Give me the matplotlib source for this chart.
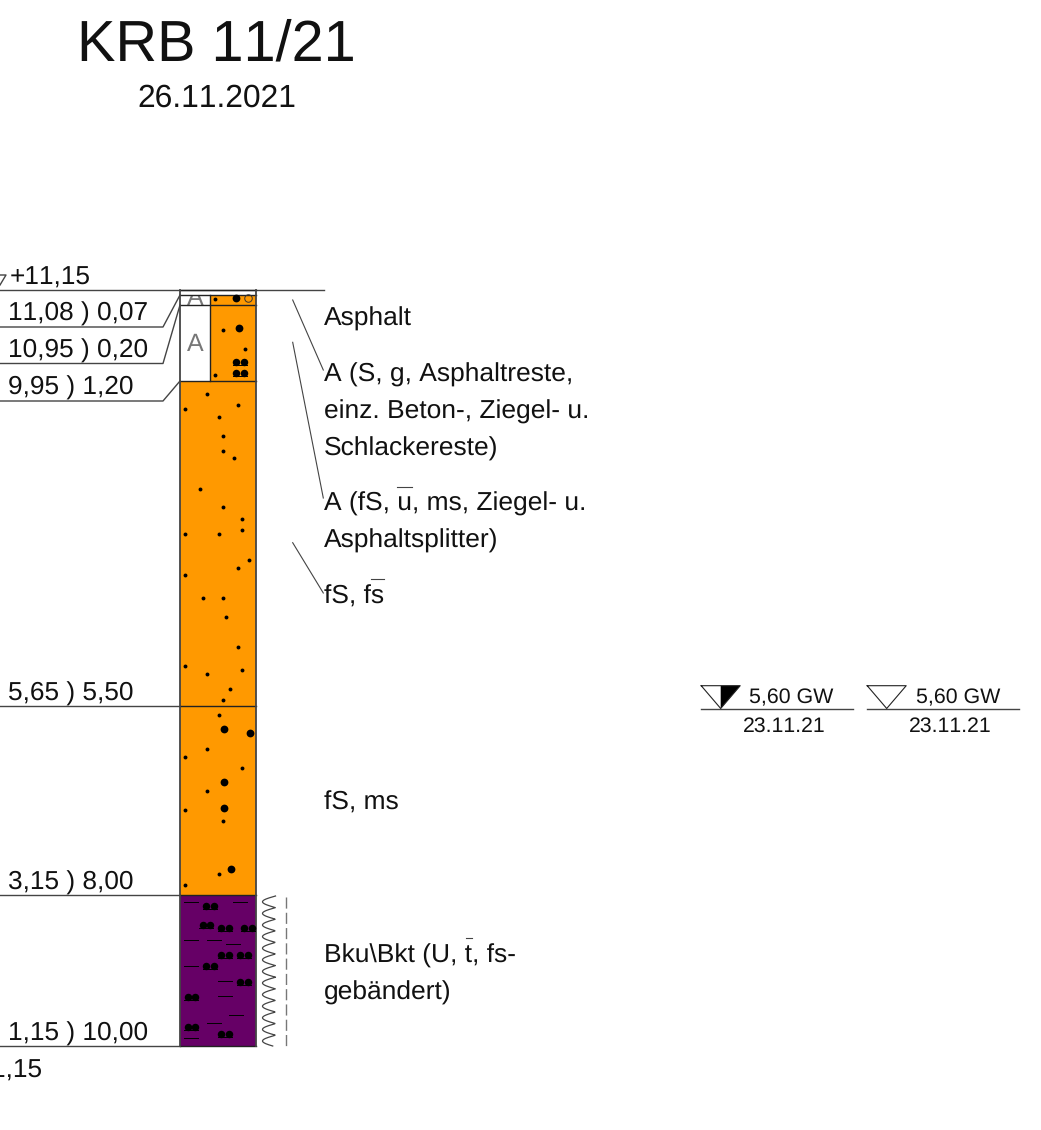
import matplotlib
matplotlib.use('Agg')
import matplotlib.pyplot as plt
from matplotlib.patches import Rectangle
import numpy as np

plt.rcParams['font.family'] = ['Liberation Sans', 'DejaVu Sans']
plt.rcParams['text.kerning_factor'] = 30
plt.rcParams['text.hinting'] = 'none'
plt.rcParams['text.hinting_factor'] = 8

# layers, depth in m below ground
layer_top = [0.0, 0.07, 0.20, 1.20, 5.50, 8.00]
layer_bottom = [0.07, 0.20, 1.20, 5.50, 8.00, 10.00]
layer_left_color = ['white', 'white', 'white', '#FF9900', '#FF9900', '#660066']
layer_right_color = ['white', '#FF9900', '#FF9900', '#FF9900', '#FF9900', '#660066']
depth_labels = ['11,08 ) 0,07', '10,95 ) 0,20', '9,95 ) 1,20', '5,65 ) 5,50', '3,15 ) 8,00', '1,15 ) 10,00']

# in pixels
small_x = [215, 222.7, 245, 215, 207.3, 184.7, 237.7, 218.7, 222.7, 222.7, 233.7, 200, 222.7, 241.7, 241.7,
           184.7, 218.7, 249, 237.7, 184.7, 203.3, 222.7, 226.3, 237.7, 184.7, 207.3, 241.7, 230, 222.7,
           218.7, 207.3, 184.7, 241.7, 207.3, 184.7, 222.7, 218.7, 184.7]
small_y = [299.3, 329.7, 348.7, 375, 394, 409, 405.3, 416.7, 435.7, 450.7, 458, 488.7, 507.3, 518.7, 530,
           534, 534, 560, 567.7, 575.3, 597.7, 597.7, 616.7, 647, 666, 673.7, 669.7, 688.7, 700,
           715.3, 749.3, 756.7, 768.3, 791, 809.7, 821, 874, 885.3]
large_x = [236, 239.3, 224.3, 250.3, 224.3, 224.3, 231.3]
large_y = [298.3, 328.3, 729, 732.7, 781.7, 808.3, 868.7]
pair_x = [240, 240, 210, 206.3, 225, 248, 225, 244, 210, 244, 191.3, 191.3, 225]
pair_y = [361.7, 373, 906, 925, 928.3, 928.3, 955.3, 955.3, 966.3, 981.7, 996.7, 1026.7, 1034.3]
dash_x = [184.3, 233.3, 184.3, 207.3, 225.7, 184.3, 218.3, 218.3, 229.3, 207.3, 184.3]
dash_y = [901.7, 901.7, 939.7, 939.7, 943.7, 966.3, 981.3, 996.3, 1015.3, 1022.7, 1038.3]


def py(y):
    return (y - 290) / 75.6


fig = plt.figure(figsize=(10.41, 11.3), dpi=100)
ax = fig.add_axes([0, 0, 1, 1])
ax.set_xlim(0, 1041)
ax.set_ylim(py(1130), py(0))
ax.axis('off')

line = '#444444'
lw = 1.0

# borehole column
for top, bot, c1, c2 in zip(layer_top, layer_bottom, layer_left_color, layer_right_color):
    ax.add_patch(Rectangle((180, top), 30, bot - top, fc=c1, ec='none', zorder=1))
    ax.add_patch(Rectangle((210, top), 45.5, bot - top, fc=c2, ec='none', zorder=1))
    ax.plot([180, 255.5], [bot, bot], color='#222222', lw=1.0, zorder=3)
ax.plot([180, 255.5], [0, 0], color='#222222', lw=1.0, zorder=3)
ax.plot([180, 180], [0, 10], color=line, lw=1.3, zorder=3)
ax.plot([255.5, 255.5], [0, 10], color=line, lw=1.3, zorder=3)
ax.plot([210, 210], [0.07, 1.2], color='#222222', lw=1.0, zorder=3)

# fill symbols
ax.plot(small_x, py(np.array(small_y)), 'o', color='black', ms=2.8, mew=0, zorder=4)
ax.plot(large_x, py(np.array(large_y)), 'o', color='black', ms=5.6, mew=0, zorder=4)
ax.plot([248], [py(298.3)], 'o', mfc='none', mec='#333333', ms=5.4, mew=0.7, zorder=4)
pair_x = np.array(pair_x)
pair_y = np.array(pair_y)
ax.plot(pair_x - 3.8, py(pair_y), 'o', color='black', ms=5.4, mew=0, zorder=4)
ax.plot(pair_x + 3.8, py(pair_y), 'o', color='black', ms=5.4, mew=0, zorder=4)
for px, y in zip(pair_x, pair_y):
    ax.plot([px - 7, px + 7], [py(y + 3)] * 2, color='black', lw=0.7, zorder=4)
for px, y in zip(dash_x, dash_y):
    ax.plot([px, px + 14], [py(y)] * 2, color='black', lw=0.7, zorder=4)

# fill letters in the anthropogenic layers
t = ax.text(195, py(305), 'A', fontsize=18, color='#777777', ha='center', va='baseline', zorder=2, clip_on=True)
t.set_clip_path(Rectangle((180, 0.07), 30, 0.13, transform=ax.transData))
ax.text(195, py(350.5), 'A', fontsize=18, color='#777777', ha='center', va='baseline', zorder=2)

# horizontal and leader lines
ax.plot([0, 324], [py(290)] * 2, color=line, lw=lw)
ax.plot([0, 163, 180], py(np.array([327, 327, 295])), color=line, lw=lw)
ax.plot([0, 163, 180], py(np.array([363.5, 363.5, 305])), color=line, lw=lw)
ax.plot([0, 163, 180], py(np.array([401, 401, 381])), color=line, lw=lw)
for d in [5.5, 8.0, 10.0]:
    ax.plot([0, 180], [d, d], color=line, lw=lw)
ax.plot([0, 6, 0], py(np.array([275, 275, 285])), color=line, lw=lw)

ax.plot([292.7, 323.3], py(np.array([300, 370])), color=line, lw=0.8)
ax.plot([292.7, 323.3], py(np.array([342.3, 498])), color=line, lw=0.8)
ax.plot([292.7, 323.3], py(np.array([542.7, 593])), color=line, lw=0.8)

# waterlogged wavy line and dashed line next to the clay
zig_y = np.linspace(896, 1046, 400)
zig_x = 275.5 - 13 * np.abs(np.sin(np.pi * (zig_y - 896) / 11.6))
ax.plot(zig_x, py(zig_y), color=line, lw=0.9)
ax.plot([285.5, 285.5], py(np.array([897, 1046])), color='#777777', lw=1.0, dashes=(8, 3))

# depth labels
ax.text(10, py(285), '+11,15', fontsize=18.9, va='baseline', color='#111111')
for text, y in zip(depth_labels, [321, 357.8, 395, 701, 890, 1041]):
    ax.text(8, py(y), text, fontsize=18.9, va='baseline', color='#111111')
ax.text(42, py(1078), '1,15', fontsize=18.9, ha='right', va='baseline', color='#111111')

# descriptions
desc = ['Asphalt', 'A (S, g, Asphaltreste,', 'einz. Beton-, Ziegel- u.', 'Schlackereste)', 'A (fS, u, ms, Ziegel- u.',
        'Asphaltsplitter)', 'fS, fs', 'fS, ms', 'Bku\\Bkt (U, t, fs-', 'gebändert)']
desc_y = [326, 381.7, 419, 456, 511, 548, 604, 810, 963, 1000]
for text, y in zip(desc, desc_y):
    ax.text(323.5, py(y), text, fontsize=19, va='baseline', color='#111111')
ax.plot([397, 412.3], py(np.array([487.3, 487.3])), color=line, lw=0.8)
ax.plot([370.7, 384.3], py(np.array([579.3, 579.3])), color=line, lw=0.8)
ax.plot([466, 472], py(np.array([938, 938])), color=line, lw=0.8)

# title
ax.text(216.5, py(60), 'KRB 11/21', fontsize=41.5, ha='center', va='baseline', color='#111111')
ax.text(216.5, py(107), '26.11.2021', fontsize=22.9, ha='center', va='baseline', color='#111111')

# groundwater symbols
for x0, x1, apex, text_x, date_x, filled in [(700.7, 853, 720.7, 749.3, 784, True), (867.3, 1019.3, 886.7, 916, 950, False)]:
    ax.plot([x0, x1], py(np.array([708.5, 708.5])), color=line, lw=lw)
    ax.plot([apex - 19.5, apex + 19.5, apex, apex - 19.5], py(np.array([685.7, 685.7, 708.5, 685.7])), color='#222222', lw=0.8)
    if filled:
        ax.fill([apex, apex + 19.5, apex], py(np.array([685.7, 685.7, 708.5])), color='black', lw=0)
    ax.text(text_x, py(703.5), '5,60 GW', fontsize=15.4, va='baseline', color='#111111')
    ax.text(date_x, py(731.5), '23.11.21', fontsize=15.3, ha='center', va='baseline', color='#111111')

fig.savefig('out.png', dpi=100)
